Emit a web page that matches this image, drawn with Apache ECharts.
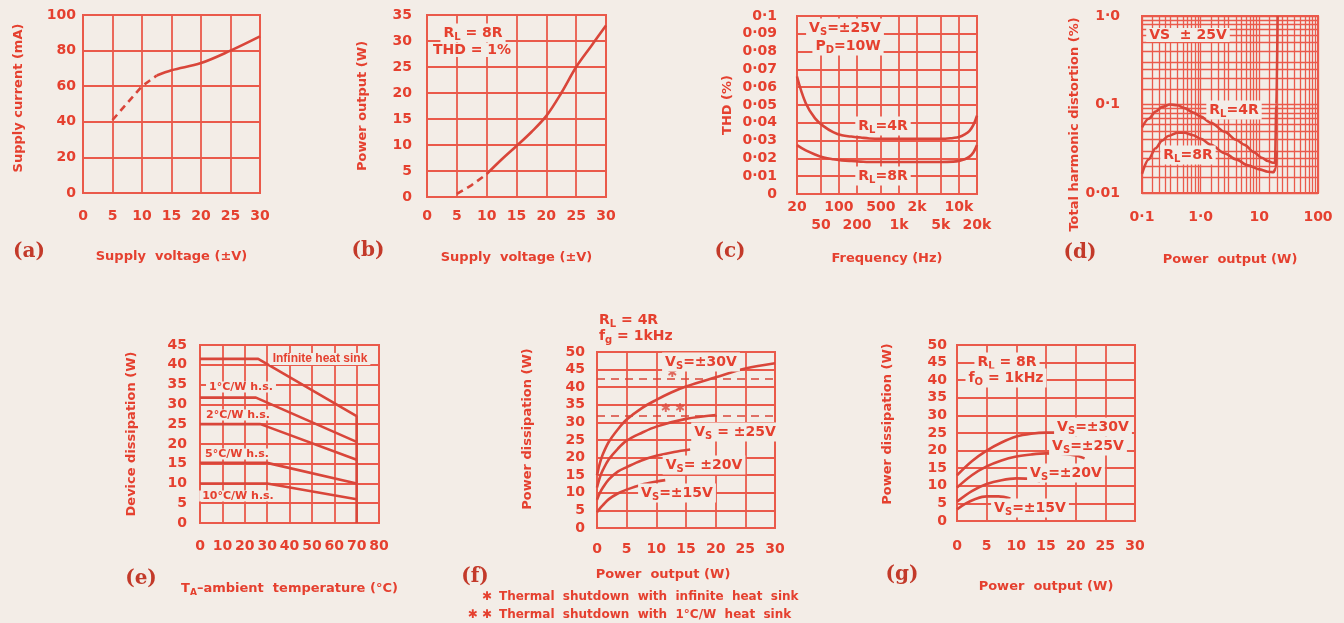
<!DOCTYPE html>
<html><head><meta charset="utf-8">
<script src="https://cdn.jsdelivr.net/npm/echarts@6/dist/echarts.min.js"></script>
<style>html,body{margin:0;padding:0;background:#f3ede7;}#c{width:1344px;height:623px;}</style>
</head><body><div id="c"></div>
<script>
// ---------- data ----------
// (a) supply current vs supply voltage
const aVoltDash = [5, 10, 12.5];
const aCurrDash = [41, 60, 66];
const aVoltSolid = [12.5, 15, 20, 25, 30];
const aCurrSolid = [66, 69, 73, 80, 88];
// (b) power output vs supply voltage
const bVoltDash = [5, 7.5, 10];
const bPowDash = [0.6, 2.3, 4.4];
const bVoltSolid = [10, 12.5, 15, 17.5, 20, 22.5, 25, 27.5, 30];
const bPowSolid = [4.4, 7.2, 9.8, 12.5, 15.6, 20, 25, 29, 33];
// (c) THD vs frequency
const cFreq = [20, 28, 40, 56, 80, 112, 160, 230, 320, 500, 1000, 2000, 5000, 8000, 10000, 12500, 15000, 17500, 20000];
const cThd4R = [0.066, 0.051, 0.0425, 0.038, 0.0348, 0.033, 0.0323, 0.0317, 0.0312, 0.031, 0.031, 0.031, 0.031, 0.0315, 0.032, 0.0335, 0.0355, 0.039, 0.044];
const cThd8R = [0.0275, 0.0245, 0.0222, 0.0205, 0.0195, 0.0189, 0.0185, 0.0182, 0.018, 0.018, 0.018, 0.018, 0.018, 0.0182, 0.0186, 0.0195, 0.021, 0.0235, 0.0275];
const cTickFreq = [20, 50, 100, 200, 500, 1000, 2000, 5000, 10000, 20000];
const cTickLabels = ['20', '50', '100', '200', '500', '1k', '2k', '5k', '10k', '20k'];
// (d) THD vs power output (log-log)
const dPow4R = [0.1, 0.13, 0.17, 0.22, 0.3, 0.4, 0.53, 0.75, 1.0, 1.5, 2.6, 4, 5.6, 8, 11, 14, 17, 18.5, 19.5, 20.5];
const dThd4R = [0.055, 0.069, 0.083, 0.094, 0.1, 0.098, 0.091, 0.081, 0.073, 0.062, 0.049, 0.04, 0.035, 0.029, 0.025, 0.023, 0.022, 0.022, 0.1, 1.0];
const dPow8R = [0.1, 0.13, 0.17, 0.22, 0.28, 0.4, 0.53, 0.75, 1.0, 1.5, 2.6, 4, 6.4, 10, 14, 17.5, 19, 19.8];
const dThd8R = [0.0165, 0.024, 0.032, 0.039, 0.044, 0.048, 0.048, 0.045, 0.041, 0.035, 0.028, 0.024, 0.0205, 0.0185, 0.0174, 0.0172, 0.019, 0.03];
const dXLabelVals = [0.1, 1, 10, 100];
const dXLabels = ['0·1', '1·0', '10', '100'];
const dYLabelVals = [0.01, 0.1, 1];
const dYLabels = ['0·01', '0·1', '1·0'];
const dGridMantissa = [1, 1.5, 2, 2.5, 3, 4, 5, 6, 7, 8, 9];
// (e) device dissipation vs ambient temperature
const eTempInf = [0, 26, 70, 70];   const eDissInf = [41.5, 41.5, 27, 0];
const eTemp1 = [0, 25, 70];         const eDiss1 = [31.7, 31.7, 20.5];
const eTemp2 = [0, 27, 70];         const eDiss2 = [25, 25, 16];
const eTemp5 = [0, 30, 70];         const eDiss5 = [15.2, 15.2, 10];
const eTemp10 = [0, 30, 70];        const eDiss10 = [10, 10, 6];
// (f) power dissipation vs power output, RL=4R
const fPow30 = [0, 0.5, 1, 2, 3.5, 5, 7.5, 10, 12.5, 15, 20, 25, 30];
const fDiss30 = [15, 18.5, 21, 24.5, 28, 30.8, 34, 36.4, 38.5, 40.2, 42.8, 45.3, 46.8];
const fPow25 = [0, 0.5, 1, 2, 3.5, 5, 7.5, 10, 15, 20];
const fDiss25 = [11.5, 14.5, 16.5, 19.5, 22.5, 24.8, 27, 28.8, 31, 32.1];
const fPow20 = [0, 0.5, 1, 2, 3.5, 5, 7.5, 10, 13, 15.7];
const fDiss20 = [8, 10, 11.5, 13.8, 16, 17.3, 19.2, 20.5, 21.6, 22.3];
const fPow15 = [0, 0.5, 1, 2, 3.5, 5, 7.5, 10, 11.5];
const fDiss15 = [4.5, 5.6, 6.5, 8.2, 9.8, 10.9, 12.3, 13.2, 13.6];
const fShutdown = [42.3, 32];
const fStarPow = [12.7, 12.8];
const fStarDiss = [43.7, 33.8];
const fStarLabels = ['✱', '✱ ✱'];
// (g) power dissipation vs power output, RL=8R
const gPow30 = [0, 2.5, 5, 7.5, 10, 12.5, 15, 20, 26];
const gDiss30 = [13, 17, 20, 22.3, 24, 24.8, 25.1, 25.1, 24.6];
const gPow25 = [0, 2.5, 5, 7.5, 10, 12.5, 15, 17.5, 20, 21.5];
const gDiss25 = [9.5, 13, 15.5, 17.2, 18.3, 18.9, 19.2, 19.1, 18.6, 17.8];
const gPow20 = [0, 2.5, 5, 7.5, 10, 12, 14];
const gDiss20 = [5.5, 8.5, 10.5, 11.6, 12.1, 12, 11.2];
const gPow15 = [0, 1.5, 3, 5, 7, 9];
const gDiss15 = [3.3, 5, 6.2, 7, 7, 6.4];

// ---------- style ----------
const TXT = '#e5402f', GRIDC = '#ea5a4b', CURVE = '#d9463a', DARK = '#c33a2a', BG = '#f3ede7';
const FONT = '"DejaVu Sans", sans-serif';
const log10 = Math.log10;

function merge(a, b) {
  const o = Object.assign({}, a);
  for (const k in b) {
    if (b[k] && typeof b[k] === 'object' && !Array.isArray(b[k]) && a[k] && typeof a[k] === 'object' && !Array.isArray(a[k])) o[k] = merge(a[k], b[k]);
    else o[k] = b[k];
  }
  return o;
}
function nearestIdx(arr, v) { let b = 0; for (let i = 1; i < arr.length; i++) if (Math.abs(arr[i] - v) < Math.abs(arr[b] - v)) b = i; return b; }
const zip = (xs, ys) => xs.map((x, i) => [x, ys[i]]);
const zipLog = (xs, ys) => xs.map((x, i) => [log10(x), log10(ys[i])]);

const grids = [
  {left: 83, top: 15, width: 177, height: 178},
  {left: 427, top: 15, width: 179, height: 182},
  {left: 797, top: 16, width: 180, height: 178},
  {left: 1142, top: 16, width: 176, height: 177},
  {left: 200, top: 345, width: 179, height: 178},
  {left: 597, top: 352, width: 178, height: 176},
  {left: 957, top: 345, width: 178, height: 176}
].map(g => Object.assign({show: true, borderWidth: 2, borderColor: GRIDC, backgroundColor: 'rgba(0,0,0,0)', containLabel: false, outerBoundsMode: 'none'}, g));

const AXBASE = {
  type: 'value', nameLocation: 'middle',
  axisLine: {show: false}, axisTick: {show: false},
  splitLine: {show: true, lineStyle: {color: GRIDC, width: 1.8}},
  axisLabel: {color: TXT, fontSize: 14, fontWeight: 'bold', fontFamily: FONT, showMinLabel: true, showMaxLabel: true},
  nameTextStyle: {color: TXT, fontSize: 13, fontWeight: 'bold', fontFamily: FONT}
};
const ax = (gi, o) => merge(merge(AXBASE, {gridIndex: gi}), o);
const dot = s => s.replace('.', '·');

const cTickPos = cTickFreq.map(log10);
const cRow1 = cTickPos.filter((v, i) => i % 2 === 0);
const cRow2 = cTickPos.filter((v, i) => i % 2 === 1);
const cLab = v => cTickLabels[nearestIdx(cTickPos, v)];
const dXTicks = []; [-1, 0, 1].forEach(e => dGridMantissa.forEach(m => dXTicks.push(log10(m) + e))); dXTicks.push(2);
const dYTicks = []; [-2, -1].forEach(e => dGridMantissa.forEach(m => dYTicks.push(log10(m) + e))); dYTicks.push(0);
const dXLabPos = dXLabelVals.map(log10), dYLabPos = dYLabelVals.map(log10);

const xAxes = [
  ax(0, {min: 0, max: 30, interval: 5, name: 'Supply  voltage (±V)', nameGap: 57, axisLabel: {margin: 16}}),
  ax(1, {min: 0, max: 30, interval: 5, name: 'Supply  voltage (±V)', nameGap: 54, axisLabel: {margin: 12}}),
  ax(2, {min: log10(20), max: log10(20000), name: 'Frequency (Hz)', nameGap: 58,
    axisTick: {show: false, customValues: cTickPos},
    axisLabel: {margin: 6, customValues: cRow1, formatter: cLab}}),
  ax(3, {min: -1, max: 2, name: 'Power  output (W)', nameGap: 60,
    splitLine: {lineStyle: {width: 1.3}},
    axisTick: {show: false, customValues: dXTicks},
    axisLabel: {margin: 17, customValues: dXLabPos, formatter: v => dXLabels[nearestIdx(dXLabPos, v)]}}),
  ax(4, {min: 0, max: 80, interval: 10, name: 'T{s|A}–ambient  temperature (°C)', nameGap: 57, axisLabel: {margin: 16},
    nameTextStyle: {rich: {s: {fontSize: 9, fontWeight: 'bold', fontFamily: FONT, color: TXT, verticalAlign: 'bottom', padding: [8, 0, 0, 0]}}}}),
  ax(5, {min: 0, max: 30, interval: 5, name: 'Power  output (W)', nameGap: 40, axisLabel: {margin: 14},
    nameTextStyle: {padding: [0, 46, 0, 0]}}),
  ax(6, {min: 0, max: 30, interval: 5, name: 'Power  output (W)', nameGap: 59, axisLabel: {margin: 18}}),
  // second label row of (c)
  ax(2, {min: log10(20), max: log10(20000), position: 'bottom', offset: 18, splitLine: {show: false},
    axisTick: {show: false, customValues: cRow2},
    axisLabel: {margin: 6, customValues: cRow2, formatter: cLab}})
];
const yAxes = [
  ax(0, {min: 0, max: 100, interval: 20, name: 'Supply current (mA)', nameGap: 58, axisLabel: {margin: 7}, nameTextStyle: {padding: [0, 0, 0, 12]}}),
  ax(1, {min: 0, max: 35, interval: 5, name: 'Power output (W)', nameGap: 58, axisLabel: {margin: 15}}),
  ax(2, {min: 0, max: 0.1, interval: 0.01, name: 'THD (%)', nameGap: 63, axisLabel: {margin: 20,
    formatter: v => v === 0 ? '0' : dot(String(+v.toFixed(2)))}}),
  ax(3, {min: -2, max: 0, name: 'Total harmonic distortion (%)', nameGap: 58,
    splitLine: {lineStyle: {width: 1.3}},
    axisTick: {show: false, customValues: dYTicks},
    axisLabel: {margin: 22, customValues: dYLabPos, formatter: v => dYLabels[nearestIdx(dYLabPos, v)]},
    nameTextStyle: {padding: [0, 40, 0, 0]}}),
  ax(4, {min: 0, max: 45, interval: 5, name: 'Device dissipation (W)', nameGap: 62, axisLabel: {margin: 13}}),
  ax(5, {min: 0, max: 50, interval: 5, name: 'Power dissipation (W)', nameGap: 63, axisLabel: {margin: 12}, nameTextStyle: {padding: [0, 0, 0, 22]}}),
  ax(6, {min: 0, max: 50, interval: 5, name: 'Power dissipation (W)', nameGap: 63, axisLabel: {margin: 10}, nameTextStyle: {padding: [0, 0, 0, 18]}})
];

function line(gi, data, o) {
  return merge({type: 'line', xAxisIndex: gi, yAxisIndex: gi, data, showSymbol: false, symbol: 'none',
    smooth: 0.35, silent: true, z: 5, lineStyle: {color: CURVE, width: 2.6}}, o || {});
}
const DASH = {lineStyle: {type: [7, 5]}, smooth: false};

const series = [
  line(0, zip(aVoltDash, aCurrDash), DASH),
  line(0, zip(aVoltSolid, aCurrSolid)),
  line(1, zip(bVoltDash, bPowDash), DASH),
  line(1, zip(bVoltSolid, bPowSolid)),
  line(2, cFreq.map((f, i) => [log10(f), cThd4R[i]]), {smooth: 0.4}),
  line(2, cFreq.map((f, i) => [log10(f), cThd8R[i]]), {smooth: 0.4}),
  line(3, zipLog(dPow4R, dThd4R), {smooth: 0.3, smoothMonotone: 'x'}),
  line(3, zipLog(dPow8R, dThd8R), {smooth: 0.3, smoothMonotone: 'x'}),
  line(4, zip(eTempInf, eDissInf), {smooth: false}),
  line(4, zip(eTemp1, eDiss1), {smooth: false}),
  line(4, zip(eTemp2, eDiss2), {smooth: false}),
  line(4, zip(eTemp5, eDiss5), {smooth: false}),
  line(4, zip(eTemp10, eDiss10), {smooth: false}),
  line(5, zip(fPow30, fDiss30), {
    markLine: {silent: true, symbol: 'none', label: {show: false},
      lineStyle: {type: [8, 6], color: CURVE, width: 1.5},
      data: fShutdown.map(v => ({yAxis: v}))}}),
  line(5, zip(fPow25, fDiss25)),
  line(5, zip(fPow20, fDiss20)),
  line(5, zip(fPow15, fDiss15)),
  {type: 'scatter', xAxisIndex: 5, yAxisIndex: 5, silent: true, symbolSize: 1, z: 6,
    itemStyle: {color: 'rgba(0,0,0,0)'}, data: zip(fStarPow, fStarDiss),
    label: {show: true, position: 'inside', color: CURVE, fontSize: 12, fontFamily: FONT, fontWeight: 'bold',
      formatter: p => fStarLabels[p.dataIndex]}},
  line(6, zip(gPow30, gDiss30)),
  line(6, zip(gPow25, gDiss25)),
  line(6, zip(gPow20, gDiss20)),
  line(6, zip(gPow15, gDiss15))
];

// ---------- texts ----------
const RICH = {s: {font: 'bold 10px "DejaVu Sans"', fill: TXT, verticalAlign: 'bottom', padding: [9, 0, 0, 0]}};
const T = (text, x, y, o) => ({type: 'text', z: 100, silent: true,
  style: Object.assign({text, x, y, align: 'center', verticalAlign: 'middle', font: 'bold 14px "DejaVu Sans"', fill: TXT, rich: RICH}, o || {})});
const TB = (text, x, y, o) => T(text, x, y, Object.assign({backgroundColor: BG, padding: [0, 3]}, o || {}));
const TITLE = {font: 'bold 20px "DejaVu Serif"', fill: DARK};
const SMALL = {font: 'bold 11px "DejaVu Sans"'};
const FOOT = {align: 'left', font: 'bold 12px "DejaVu Sans"'};

const graphics = [
  T('(a)', 29, 252, TITLE), T('(b)', 368, 251, TITLE), T('(c)', 730, 252, TITLE), T('(d)', 1080, 253, TITLE),
  T('(e)', 141, 579, TITLE), T('(f)', 475, 577, TITLE), T('(g)', 902, 575, TITLE),
  // (b)
  TB('R{s|L} = 8R', 473, 33), TB('THD = 1%', 472, 50),
  // (c)
  TB('V{s|S}=±25V', 845, 28), TB('P{s|D}=10W', 848, 46), TB('R{s|L}=4R', 883, 126), TB('R{s|L}=8R', 883, 176),
  // (d)
  TB('VS  ± 25V', 1188, 35), TB('R{s|L}=4R', 1234, 110), TB('R{s|L}=8R', 1188, 155),
  // (e)
  TB('Infinite heat sink', 320, 359, {font: 'bold 12px "Liberation Sans"'}),
  TB('1°C/W h.s.', 241, 387, SMALL), TB('2°C/W h.s.', 238, 415, SMALL),
  TB('5°C/W h.s.', 237, 454, SMALL), TB('10°C/W h.s.', 238, 496, SMALL),
  // (f)
  T('R{s|L} = 4R', 599, 320, {align: 'left'}), T('f{s|g} = 1kHz', 599, 336, {align: 'left'}),
  TB('V{s|S}=±30V', 701, 362), TB('V{s|S} = ±25V', 735, 432), TB('V{s|S}= ±20V', 704, 465), TB('V{s|S}=±15V', 677, 493),
  // (g)
  TB('R{s|L} = 8R', 1007, 362), TB('f{s|O} = 1kHz', 1006, 378),
  TB('V{s|S}=±30V', 1093, 427), TB('V{s|S}=±25V', 1088, 446), TB('V{s|S}=±20V', 1066, 473), TB('V{s|S}=±15V', 1030, 508),
  // footnotes
  T('✱', 492, 597, {align: 'right', font: 'bold 12px "DejaVu Sans"'}),
  T('Thermal  shutdown  with  infinite  heat  sink', 499, 597, FOOT),
  T('✱ ✱', 492, 615, {align: 'right', font: 'bold 12px "DejaVu Sans"'}),
  T('Thermal  shutdown  with  1°C/W  heat  sink', 499, 615, FOOT)
];

const chart = echarts.init(document.getElementById('c'), null, {renderer: 'canvas'});
chart.setOption({
  backgroundColor: BG,
  animation: false,
  grid: grids,
  xAxis: xAxes,
  yAxis: yAxes,
  series: series,
  graphic: {elements: graphics}
});
</script>
</body></html>
